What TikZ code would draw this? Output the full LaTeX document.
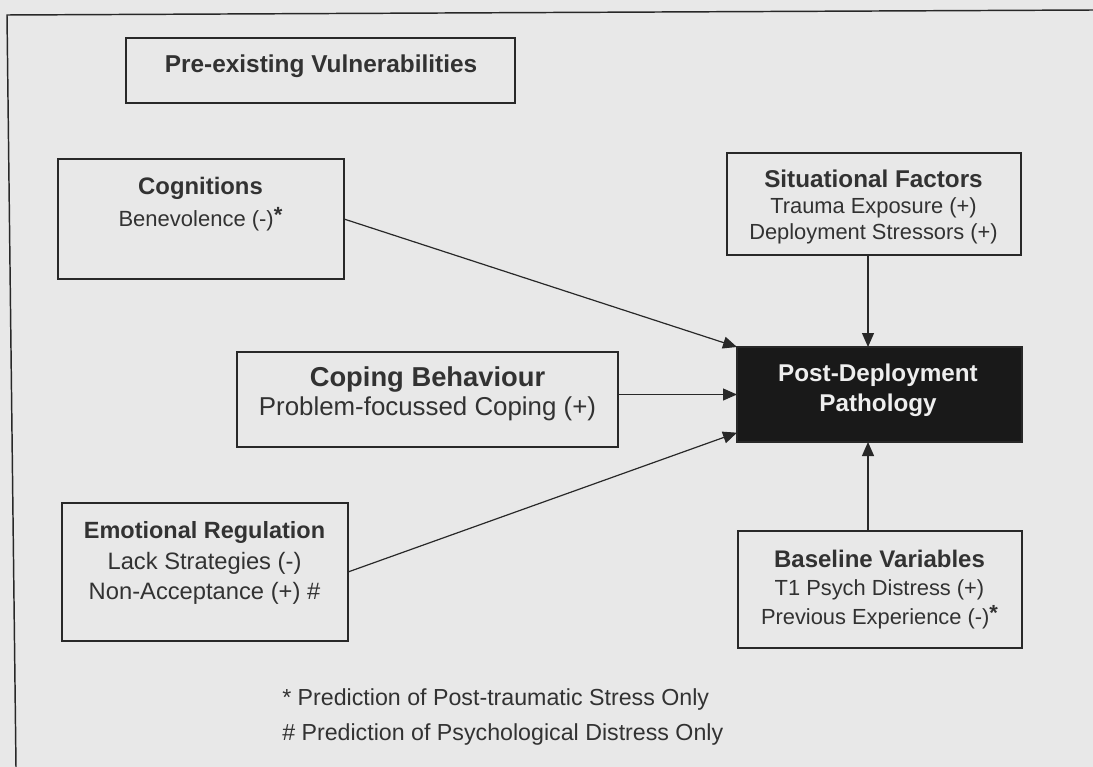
\documentclass[tikz,border=0pt]{standalone}
\usepackage{fontspec}
\setmainfont{Liberation Sans}
\usetikzlibrary{arrows.meta}

\definecolor{paper}{RGB}{232,232,232}
\definecolor{ink}{RGB}{40,40,40}
\definecolor{inktext}{RGB}{50,50,50}
\definecolor{darkfill}{RGB}{25,25,25}
\definecolor{lighttext}{RGB}{238,238,238}

% size / baselineskip in pt
\newcommand{\txtsize}[2]{\fontsize{#1}{#2}\selectfont}
\newcommand{\headline}[2]{{\fontsize{#1}{#1}\selectfont\bfseries #2}}
\newcommand{\starmark}{\raisebox{0.35ex}{\bfseries *}}

\begin{document}
\begin{tikzpicture}[x=0.75pt,y=0.75pt,yscale=-1,xscale=1,
  framebox/.style={draw=ink,line width=1.1pt,inner sep=0pt,outer sep=0pt,fill=paper},
  boxtext/.style={anchor=north,inner sep=0pt,align=center,text=inktext},
  link/.style={draw=ink,line width=0.9pt,-{Triangle[length=10.5pt,width=9pt]}}]
\useasboundingbox (0,0) rectangle (1093,767);
\fill [paper] (0,0) rectangle (1093,767);

%Shape: Frame
\draw [draw=ink,line width=1.1pt] (1093,10) -- (7,15) -- (16,767) ;

%Shape: Rectangle [id:pre]
\node [framebox,minimum width=291.75pt,minimum height=48.75pt] (prebox) at (320.5,70.5) {};
%Shape: Rectangle [id:cog]
\node [framebox,minimum width=214.5pt,minimum height=90pt] (cogbox) at (201,219) {};
%Shape: Rectangle [id:cop]
\node [framebox,minimum width=285.75pt,minimum height=71.25pt] (copbox) at (427.5,399.5) {};
%Shape: Rectangle [id:emo]
\node [framebox,minimum width=214.5pt,minimum height=103.5pt] (emobox) at (205,572) {};
%Shape: Rectangle [id:sit]
\node [framebox,minimum width=220.5pt,minimum height=76.5pt] (sitbox) at (874,204) {};
%Shape: Rectangle [id:post]
\node [framebox,fill=darkfill,minimum width=213.75pt,minimum height=71.25pt] (postbox) at (879.5,394.5) {};
%Shape: Rectangle [id:base]
\node [framebox,minimum width=213pt,minimum height=87.75pt] (basebox) at (880,589.5) {};

% Text Node
\draw (321,54.3) node [boxtext] (pretext) {\headline{18.3}{Pre-existing Vulnerabilities}};
% Text Node
\draw (200.5,176.5) node [boxtext,font=\txtsize{16.5}{24.2}] (cogtext) {\headline{17.9}{Cognitions}\\Benevolence (-)\starmark};
% Text Node
\draw (427.5,366.2) node [boxtext,font=\txtsize{19.4}{21.9}] (coptext) {\headline{20.5}{Coping Behaviour}\\Problem-focussed Coping (+)};
% Text Node
\draw (204.5,521.6) node [boxtext,font=\txtsize{17.8}{22.6}] (emotext) {\headline{17.6}{Emotional Regulation}\\Lack Strategies (-)\\Non-Acceptance (+) \#};
% Text Node
\draw (873.5,169.6) node [boxtext,font=\txtsize{16.4}{19.5}] (sittext) {\headline{18.2}{Situational Factors}\\Trauma Exposure (+)\\Deployment Stressors (+)};
% Text Node
\draw (878,363.3) node [boxtext,text=lighttext,font=\txtsize{18.2}{22.5}\bfseries] (posttext) {Post-Deployment\\Pathology};
% Text Node
\draw (879.5,549.5) node [boxtext,font=\txtsize{16.4}{21.5}] (basetext) {\headline{18}{Baseline Variables}\\T1 Psych Distress (+)\\Previous Experience (-)\starmark};
% Text Node
\draw (282,688) node [boxtext,anchor=north west,align=left,font=\txtsize{17.4}{26.25}] (notes) {* Prediction of Post-traumatic Stress Only\\\# Prediction of Psychological Distress Only};

%Connectors
\coordinate (axis) at (868,0);
\draw [link] (cogbox.east) -- (postbox.north west);
\draw [link] (postbox.west -| copbox.east) -- (postbox.west);
\draw [link] (emobox.east) -- (postbox.195);
\draw [link] (sitbox.south -| axis) -- (postbox.north -| axis);
\draw [link] (basebox.north -| axis) -- (postbox.south -| axis);
\end{tikzpicture}
\end{document}
